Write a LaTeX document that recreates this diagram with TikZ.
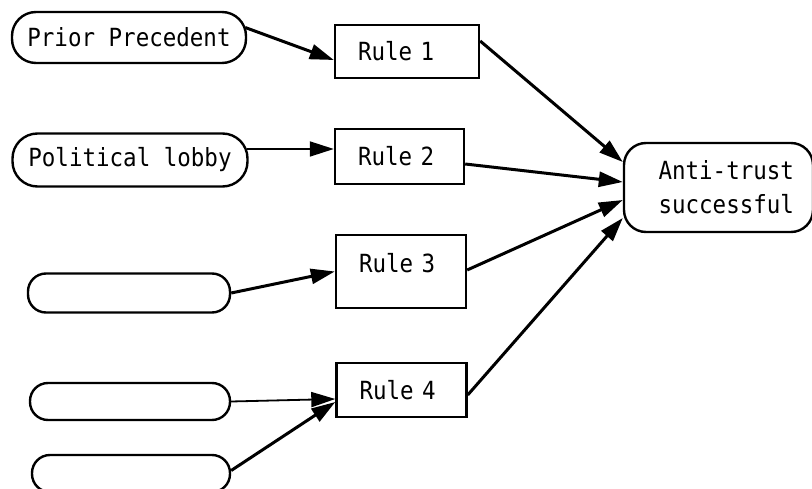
\documentclass[tikz,border=0pt]{standalone}
\usepackage{fontspec}
\newfontfamily\plotter[FakeStretch=0.9]{DejaVu Sans Mono}
\usetikzlibrary{arrows.meta}

\tikzset{
  src/.style      = {draw, line width=2.4pt, rounded corners=18pt, inner xsep=4pt,
                     minimum width=200pt, minimum height=37pt},
  rulebox/.style  = {draw, line width=2.4pt, inner xsep=23pt, text width=84pt,
                     align=left, minimum height=54pt},
  goal/.style     = {draw, line width=2.4pt, rounded corners=22pt, inner xsep=19pt,
                     text width=151pt, align=right, minimum height=89pt},
  link/.style     = {line width=3pt, -{Triangle[length=24pt,width=15pt]}},
  thinlink/.style = {link, line width=1.8pt},
}

\begin{document}
\begin{tikzpicture}[x=1pt, y=1pt, font=\plotter\fontsize{25}{34}\selectfont]
        \useasboundingbox (0,0) rectangle (812,488);
        % sources
        \node (pp)  [src, minimum width=234pt, minimum height=51pt, rounded corners=24pt] at (129,450.5) {Prior Precedent};
        \node (pol) [src, minimum width=235pt, minimum height=53pt, rounded corners=25pt] at (130,328) {Political lobby};
        \node (b1)  [src, minimum width=202pt, minimum height=39pt] at (129,195) {};
        \node (b2)  [src] at (130,86.5) {};
        \node (b3)  [src, minimum width=198pt] at (131,14.5) {};
        % rules
        \node (r1) [rulebox, text width=98pt, minimum height=53pt] at (407,436.5) {Rule 1};
        \node (r2) [rulebox, text width=83pt, minimum height=55pt] at (399.5,331.5) {Rule 2};
        \node (r3) [rulebox, minimum height=73pt, text depth=17pt] at (401,216.5) {Rule 3};
        \node (r4) [rulebox] at (401.5,98) {Rule 4};
        % goal
        \node (goal) [goal] at (718.5,300.5) {Anti-trust\\successful};
        % in
        \draw[link]     ([xshift=-2pt,yshift=10pt]pp.east) -- ([yshift=-8.5pt]r1.west);
        \draw[thinlink] ([xshift=-2pt,yshift=11pt]pol.east) -- ([yshift=7.5pt]r2.west);
        \draw[link]     (b1.east) -- (r3.west);
        \draw[thinlink] (b2.east) -- ([yshift=-9pt]r4.west);
        \draw[link]     ([yshift=3pt]b3.east) -- ([yshift=-12pt]r4.west);
        % out
        \foreach \r/\a/\b in {r1/10.5/25.5, r2/-7.5/5.5, r3/1.5/-12.5, r4/-5/-30.5}
            \draw[link] ([yshift=\a pt]\r.east) -- ([yshift=\b pt]goal.west);
        %
\end{tikzpicture}
\end{document}
